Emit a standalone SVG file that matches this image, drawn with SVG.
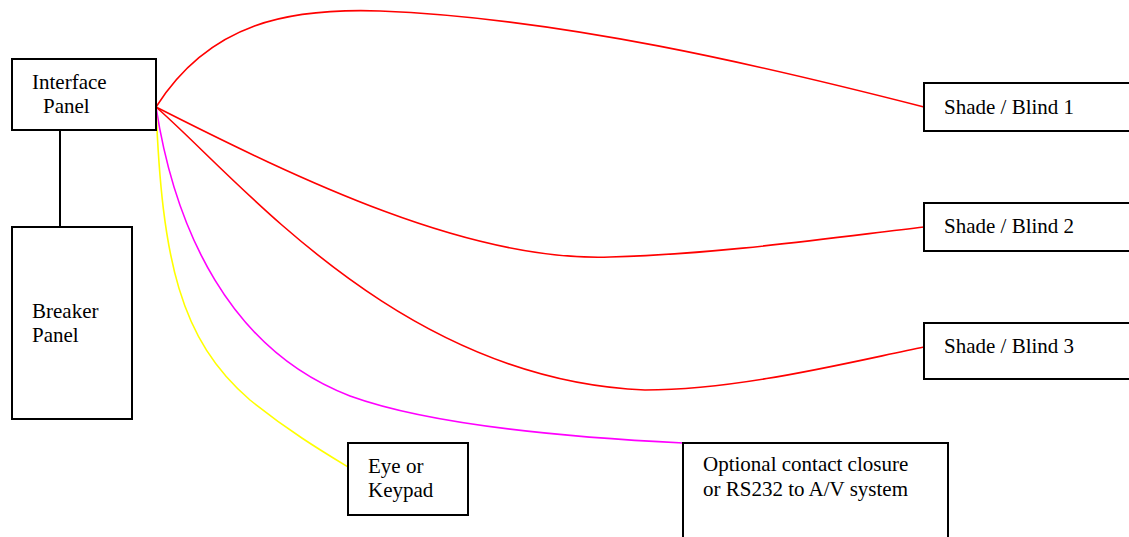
<svg xmlns="http://www.w3.org/2000/svg" width="1129" height="537" viewBox="0 0 1129 537">
<style>
.box{fill:#fff;stroke:#000;stroke-width:2}
.t{font-family:"Liberation Serif","Times New Roman",serif;font-size:21px;fill:#000}
.c{fill:none;stroke-width:1.6}
.red{stroke:#ff0000}
.mag{stroke:#ff00ff}
.yel{stroke:#ffff00}
</style>
<rect width="1129" height="537" fill="#fff"/>
<g id="connectors">
<line x1="60" y1="130" x2="60" y2="227" stroke="#000" stroke-width="2"/>
<path class="c red" d="M156,107 C210,22 290,8 380,11 C560,18 760,65 924,107"/>
<path class="c red" d="M156,107 C300,180 470,262 610,257 C720,254 830,238 924,227"/>
<path class="c red" d="M156,107 C240,180 400,380 645,390 C740,390 850,362 924,347"/>
<path class="c mag" d="M156,107 C175,230 230,350 350,396 C430,425 560,437 683,443"/>
<path class="c yel" d="M156,107 C162,260 180,340 250,400 C290,432 320,450 348,467"/>
</g>
<g id="interface-panel">
<rect class="box" x="12" y="59" width="144" height="71"/>
<text class="t" x="32" y="89">Interface</text>
<text class="t" x="43" y="113">Panel</text>
</g>
<g id="breaker-panel">
<rect class="box" x="12" y="227" width="120" height="192"/>
<text class="t" x="32" y="318">Breaker</text>
<text class="t" x="32" y="342">Panel</text>
</g>
<g id="shade1">
<rect class="box" x="924" y="83" width="220" height="48"/>
<text class="t" x="944" y="114">Shade / Blind 1</text>
</g>
<g id="shade2">
<rect class="box" x="924" y="203" width="220" height="48"/>
<text class="t" x="944" y="233">Shade / Blind 2</text>
</g>
<g id="shade3">
<rect class="box" x="924" y="323" width="220" height="56"/>
<text class="t" x="944" y="353">Shade / Blind 3</text>
</g>
<g id="eye-keypad">
<rect class="box" x="348" y="443" width="120" height="72"/>
<text class="t" x="368" y="473">Eye or</text>
<text class="t" x="368" y="497">Keypad</text>
</g>
<g id="optional">
<rect class="box" x="683" y="443" width="265" height="110"/>
<text class="t" x="703" y="471">Optional contact closure</text>
<text class="t" x="703" y="496">or RS232 to A/V system</text>
</g>
</svg>
